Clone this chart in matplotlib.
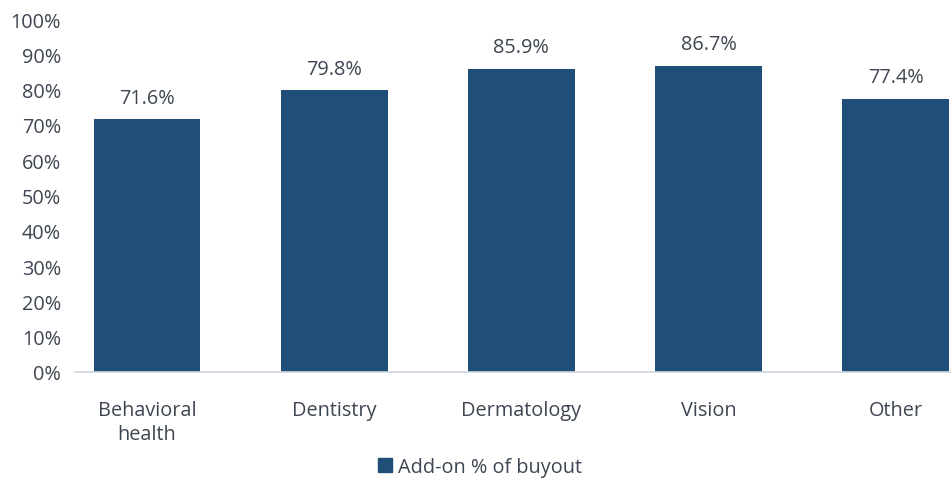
import matplotlib
matplotlib.use("Agg")
import matplotlib.pyplot as plt
import matplotlib.patches as mpatches

categories = ["Behavioral\nhealth", "Dentistry", "Dermatology", "Vision", "Other"]
addon_pct = [71.6, 79.8, 85.9, 86.7, 77.4]
yticks = [0, 10, 20, 30, 40, 50, 60, 70, 80, 90, 100]
series_name = "Add-on % of buyout"

bar_color = "#1f4e79"
text_color = "#3e4652"
fs = 14.3

plt.rcParams["font.family"] = ["Open Sans", "DejaVu Sans"]

fig = plt.figure(figsize=(9.53, 4.81), dpi=100)
ax = fig.add_axes([75 / 953, (481 - 373) / 481, (950 - 75) / 953, 353 / 481])

x = list(range(len(categories)))
ax.bar(x, addon_pct, width=0.57, color=bar_color, zorder=2)
for xi, v in zip(x, addon_pct):
    ax.text(xi, v + 3.3, f"{v:.1f}%", ha="center", va="bottom", fontsize=fs, color=text_color)

ax.set_xlim(-0.385, 4.29)
ax.set_ylim(0, 100)
ax.set_yticks(yticks)
ax.set_yticklabels([f"{t}%" for t in yticks])
ax.set_xticks(x)
ax.set_xticklabels(categories, linespacing=1.25)
ax.tick_params(axis="both", length=0, labelsize=fs, labelcolor=text_color)
ax.tick_params(axis="x", pad=20)
ax.tick_params(axis="y", pad=10)

for s in ["top", "right", "left"]:
    ax.spines[s].set_visible(False)
ax.spines["bottom"].set_color("#d0d7df")
ax.spines["bottom"].set_linewidth(1.2)

handle = mpatches.Patch(color=bar_color, label=series_name)
fig.legend(handles=[handle], loc="center", bbox_to_anchor=(480 / 953, 1 - 468 / 481),
           frameon=False, fontsize=fs, handlelength=0.75, handleheight=0.75,
           handletextpad=0.3, labelcolor=text_color)

fig.savefig("out.png", dpi=100, facecolor="white")
